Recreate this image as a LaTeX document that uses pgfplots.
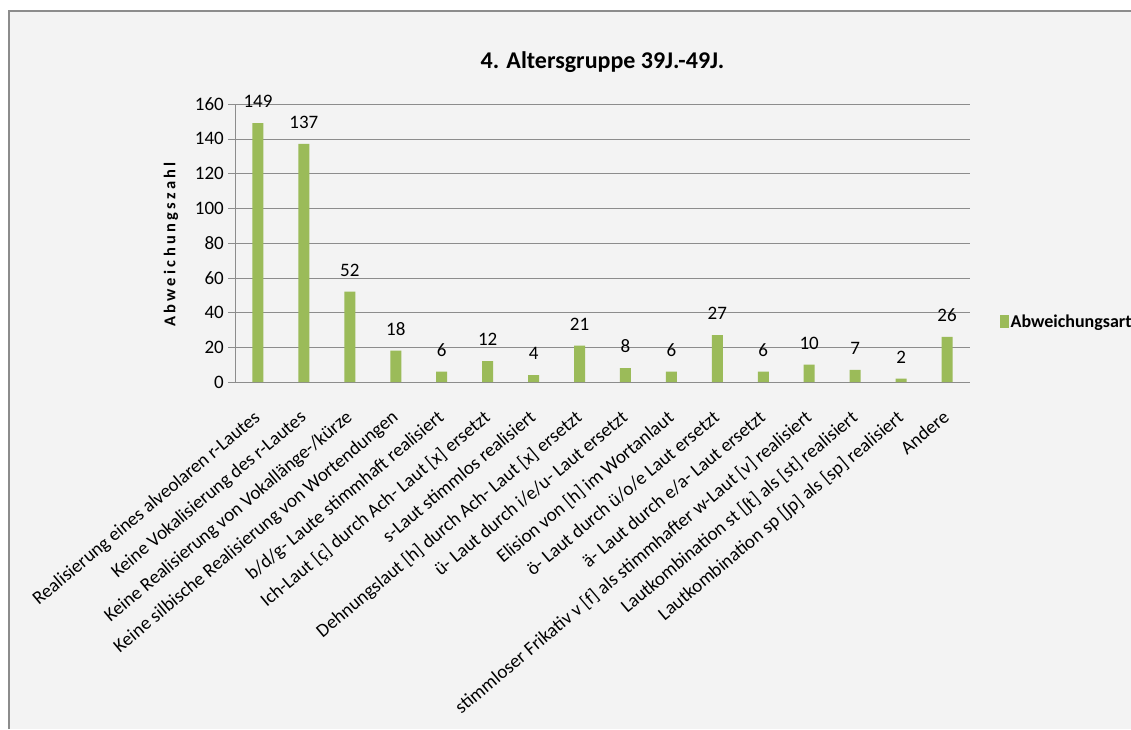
\documentclass[border=0pt]{standalone}
\usepackage{pgfplots}
\pgfplotsset{compat=1.18}
\usepackage{fontspec}
\setmainfont{Carlito}
\definecolor{bargreen}{HTML}{9BBB59}
\definecolor{bgc}{HTML}{F3F3F3}
\definecolor{gridc}{HTML}{8C8C8C}
\begin{document}
\begin{tikzpicture}
\useasboundingbox (0pt,0pt) rectangle (1131pt,729pt);
\fill[white] (0pt,0pt) rectangle (1131pt,729pt);
\fill[bgc] (8pt,0pt) rectangle (1131pt,718pt);
\draw[gridc,line width=2pt] (9pt,0pt) -- (9pt,718pt) -- (1131pt,718pt);
\begin{axis}[
  at={(235pt,347pt)}, anchor=south west,
  scale only axis, width=735pt, height=278pt,
  xmin=-0.5, xmax=15.5, ymin=0, ymax=160,
  ytick={0,20,...,160},
  xtick={0,...,15},
  xticklabels={{Realisierung eines alveolaren r-Lautes},
    {Keine Vokalisierung des r-Lautes},
    {Keine Realisierung von Vokallänge-/kürze},
    {Keine silbische Realisierung von Wortendungen},
    {b/d/g- Laute stimmhaft realisiert},
    {Ich-Laut [ç] durch Ach- Laut [x] ersetzt},
    {s-Laut stimmlos realisiert},
    {Dehnungslaut [h] durch Ach- Laut [x] ersetzt},
    {ü- Laut durch i/e/u- Laut ersetzt},
    {Elision von [h] im Wortanlaut},
    {ö- Laut durch ü/o/e Laut ersetzt},
    {ä- Laut durch e/a- Laut ersetzt},
    {stimmloser Frikativ v [f] als stimmhafter w-Laut [v] realisiert},
    {Lautkombination st [ʃt] als [st] realisiert},
    {Lautkombination sp [ʃp] als [sp] realisiert},
    {Andere}},
  xticklabel style={xshift=-5pt, yshift=-17pt, rotate=40, anchor=north east, font=\fontsize{19}{19}\selectfont, inner sep=2pt},
  yticklabel style={font=\fontsize{19}{19}\selectfont, inner sep=4pt},
  xtick style={draw=none},
  ytick style={draw=gridc},
  tick align=outside, major tick length=7pt,
  axis x line*=bottom, axis y line*=left,
  axis line style={gridc},
  ymajorgrids, grid style={gridc},
  /pgf/number format/assume math mode=true,
  ylabel={\textbf{\addfontfeatures{LetterSpace=20}Abweichungszahl}},
  ylabel style={at={(axis description cs:-0.087,0.5)}, anchor=center, font=\fontsize{16.5}{16.5}\selectfont},
  title={\textbf{4. Altersgruppe 39J.-49J.}},
  title style={at={(axis description cs:0.5,1)}, anchor=center, yshift=36pt, font=\fontsize{24}{24}\selectfont},
  legend style={at={(axis description cs:1.04,0.216)}, anchor=west, draw=none, fill=none, font=\fontsize{18}{18}\selectfont\bfseries, inner sep=0pt},
  legend image code/.code={\fill[bargreen] (2pt,-6pt) rectangle (11pt,7pt);},
  nodes near coords,
  nodes near coords style={font=\fontsize{19}{19}\selectfont, anchor=south, inner sep=0pt, yshift=15pt},
  clip=false,
]
\addplot[ybar, bar width=11pt, fill=bargreen, draw=none] coordinates {
(0,149) (1,137) (2,52) (3,18) (4,6) (5,12) (6,4) (7,21)
(8,8) (9,6) (10,27) (11,6) (12,10) (13,7) (14,2) (15,26)};
\addlegendentry{Abweichungsart}
\end{axis}
\end{tikzpicture}
\end{document}
